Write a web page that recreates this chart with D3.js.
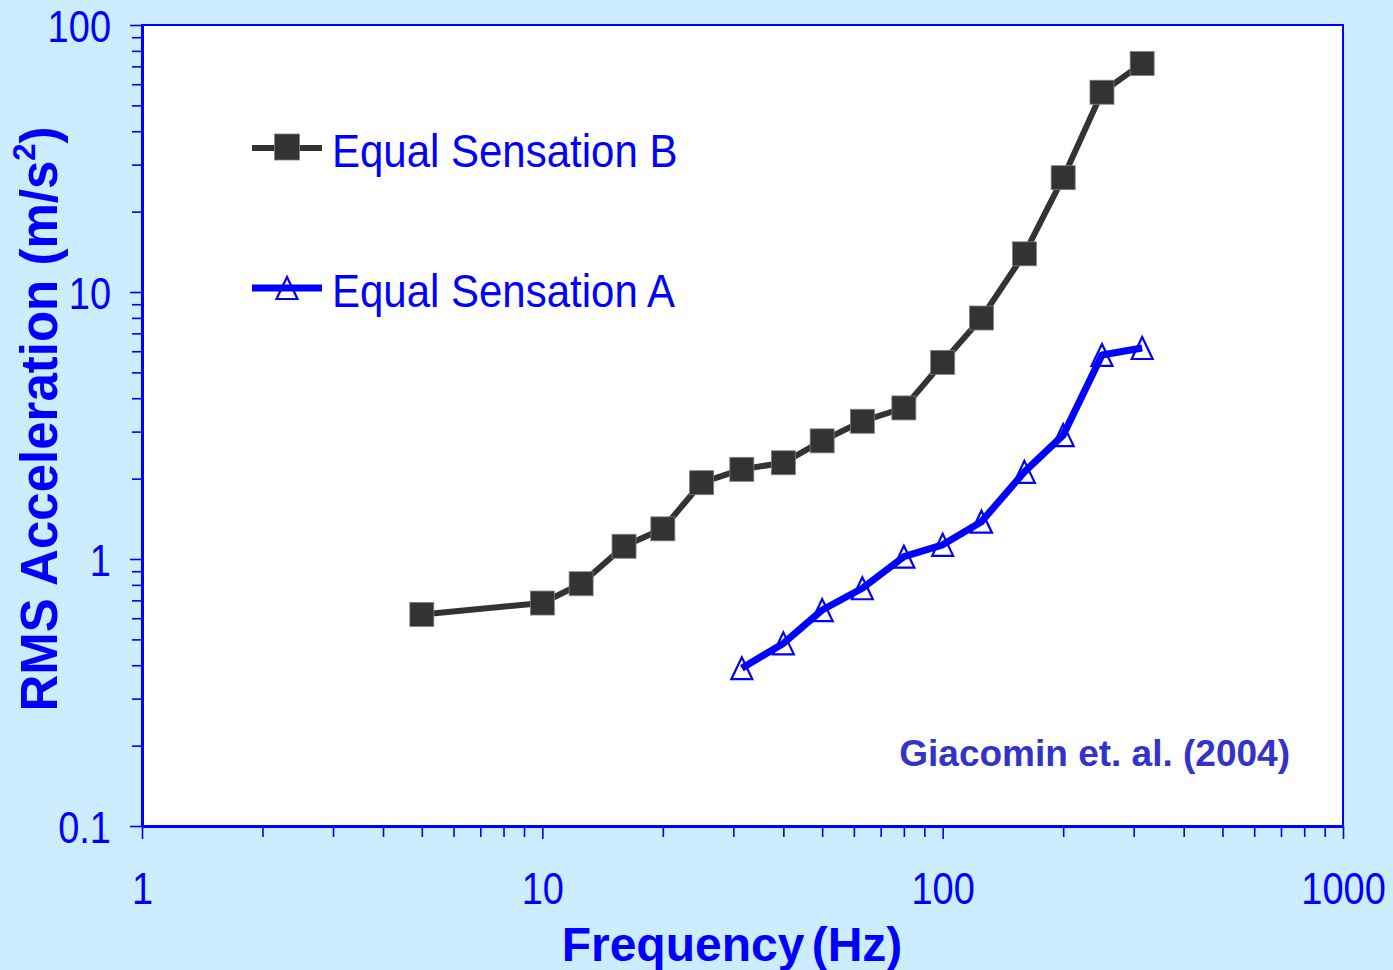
<!DOCTYPE html>
<html>
<head>
<meta charset="utf-8">
<script src="https://cdn.jsdelivr.net/npm/d3@7"></script>
<style>
  html, body { margin: 0; padding: 0; background: #CCECFF; }
  svg { display: block; font-family: "Liberation Sans", Arial, sans-serif; }
</style>
</head>
<body>
<svg id="chart" width="1393" height="970"></svg>
<script>
// Frequencies (Hz) and RMS acceleration (m/s²) for the two equal-sensation curves
const freqB = [5, 10, 12.5, 16, 20, 25, 31.5, 40, 50, 63, 80, 100, 125, 160, 200, 250, 315];
const accelB = [0.62, 0.684, 0.808, 1.116, 1.297, 1.931, 2.167, 2.293, 2.77, 3.28, 3.68, 5.45, 7.99, 13.9, 26.8, 56.0, 71.7];

const freqA = [31.5, 40, 50, 63, 80, 100, 125, 160, 200, 250, 315];
const accelA = [0.39, 0.483, 0.644, 0.777, 1.02, 1.13, 1.38, 2.12, 2.91, 5.81, 6.17];

const seriesNames = ["Equal Sensation B", "Equal Sensation A"];

const xMajorTicks = [1, 10, 100, 1000];
const yMajorTicks = [0.1, 1, 10, 100];
const xTickLabels = ["1", "10", "100", "1000"];
const yTickLabels = ["0.1", "1", "10", "100"];

const xTitle = "Frequency (Hz)";
const yTitle = "RMS Acceleration (m/s";
const credit = "Giacomin et. al. (2004)";

// ---- layout ----
const W = 1393, H = 970;
const plot = { left: 142, top: 25, right: 1343, bottom: 826 };
const BLUE = "#0000ff";
const DARK = "#333333";

const svg = d3.select("#chart");

svg.append("rect").attr("width", W).attr("height", H).attr("fill", "#CCECFF");

const x = d3.scaleLog().domain([1, 1000]).range([plot.left, plot.right]);
const y = d3.scaleLog().domain([0.1, 100]).range([plot.bottom, plot.top]);

// minor ticks: 2..9 within each decade
function minorTicks(lo, hi) {
  const out = [];
  for (let p = lo; p < hi; p *= 10) for (let k = 2; k <= 9; k++) out.push(+(p * k).toPrecision(3));
  return out;
}

// plot area
svg.append("rect")
  .attr("x", plot.left).attr("y", plot.top)
  .attr("width", plot.right - plot.left).attr("height", plot.bottom - plot.top)
  .attr("fill", "#ffffff").attr("stroke", BLUE).attr("stroke-width", 2);

// ---- axes ----
const xMinor = svg.append("g").attr("transform", `translate(0,${plot.bottom})`)
  .call(d3.axisBottom(x).tickValues(minorTicks(1, 1000)).tickSize(11).tickSizeOuter(0).tickFormat(""));
const xMajor = svg.append("g").attr("transform", `translate(0,${plot.bottom})`)
  .call(d3.axisBottom(x).tickValues(xMajorTicks).tickSize(13).tickSizeOuter(0)
    .tickFormat((d, i) => xTickLabels[i]));
const yMinor = svg.append("g").attr("transform", `translate(${plot.left},0)`)
  .call(d3.axisLeft(y).tickValues(minorTicks(0.1, 100)).tickSize(10).tickSizeOuter(0).tickFormat(""));
const yMajor = svg.append("g").attr("transform", `translate(${plot.left},0)`)
  .call(d3.axisLeft(y).tickValues(yMajorTicks).tickSize(12).tickSizeOuter(0)
    .tickFormat((d, i) => yTickLabels[i]));

[xMinor, xMajor, yMinor, yMajor].forEach(g => {
  g.selectAll(".tick line").attr("stroke", BLUE).attr("stroke-width", 1.6);
  g.select(".domain").attr("stroke", BLUE).attr("stroke-width", 3);
});

const SY = 1.15; // tick label glyphs are slightly tall
xMajor.selectAll(".tick text")
  .attr("fill", BLUE).attr("font-size", 38).attr("font-family", "Liberation Sans, Arial, sans-serif")
  .attr("dy", 0).attr("y", 78 / SY).attr("transform", `scale(1,${SY})`);
yMajor.selectAll(".tick text")
  .attr("fill", BLUE).attr("font-size", 38).attr("font-family", "Liberation Sans, Arial, sans-serif")
  .attr("dy", 0).attr("x", -31).attr("y", 16 / SY).attr("transform", `scale(1,${SY})`);

// ---- series ----
const dataB = freqB.map((f, i) => ({ f, v: accelB[i] }));
const dataA = freqA.map((f, i) => ({ f, v: accelA[i] }));
const line = d3.line().x(d => x(d.f)).y(d => y(d.v));

svg.append("path").datum(dataB).attr("d", line)
  .attr("fill", "none").attr("stroke", DARK).attr("stroke-width", 6).attr("stroke-linejoin", "round");

const SQ = 24;
svg.append("g").selectAll("rect").data(dataB).join("rect")
  .attr("x", d => x(d.f) - SQ / 2).attr("y", d => y(d.v) - SQ / 2)
  .attr("width", SQ).attr("height", SQ)
  .attr("fill", DARK).attr("stroke", "#808080").attr("stroke-width", 0.8);

svg.append("path").datum(dataA).attr("d", line)
  .attr("fill", "none").attr("stroke", BLUE).attr("stroke-width", 7).attr("stroke-linejoin", "round");

const tri = (cx, cy) => {
  const w = 21, h = 22;
  return `M${cx},${cy - h / 2}L${cx + w / 2},${cy + h / 2}L${cx - w / 2},${cy + h / 2}Z`;
};
svg.append("g").selectAll("path").data(dataA).join("path")
  .attr("d", d => tri(x(d.f), y(d.v)))
  .attr("fill", "none").attr("stroke", BLUE).attr("stroke-width", 2.2);

// ---- legend ----
const legend = svg.append("g");
legend.append("line").attr("x1", 252).attr("x2", 322).attr("y1", 148).attr("y2", 148)
  .attr("stroke", DARK).attr("stroke-width", 6);
legend.append("rect").attr("x", 287 - 12.5).attr("y", 147 - 13).attr("width", 25).attr("height", 26)
  .attr("fill", DARK).attr("stroke", "#808080").attr("stroke-width", 0.8);
legend.append("line").attr("x1", 252).attr("x2", 322).attr("y1", 288).attr("y2", 288)
  .attr("stroke", BLUE).attr("stroke-width", 7);
legend.append("path").attr("d", tri(287, 288)).attr("fill", "none").attr("stroke", BLUE).attr("stroke-width", 2.2);

const LSY = 1.1;
[[seriesNames[0], 166.5], [seriesNames[1], 306.5]].forEach(([t, by]) => {
  legend.append("text")
    .attr("transform", `translate(332,${by}) scale(1,${LSY})`)
    .attr("font-size", 42).attr("fill", BLUE).text(t);
});

// credit
svg.append("text").attr("x", 1290).attr("y", 766).attr("text-anchor", "end")
  .attr("font-size", 37).attr("font-weight", "bold").attr("fill", "#3333CC").text(credit);

// ---- axis titles ----
svg.append("text").attr("x", 732).attr("y", 961).attr("text-anchor", "middle")
  .attr("font-size", 48).attr("font-weight", "bold").attr("fill", BLUE)
  .attr("word-spacing", -6).text(xTitle);

const yt = svg.append("text")
  .attr("transform", "translate(57,419) rotate(-90)")
  .attr("text-anchor", "middle")
  .attr("font-size", 51).attr("font-weight", "bold").attr("fill", BLUE);
yt.append("tspan").text(yTitle);
yt.append("tspan").attr("font-size", 31).attr("dy", -22).text("2");
yt.append("tspan").attr("dy", 22).text(")");
</script>
</body>
</html>
